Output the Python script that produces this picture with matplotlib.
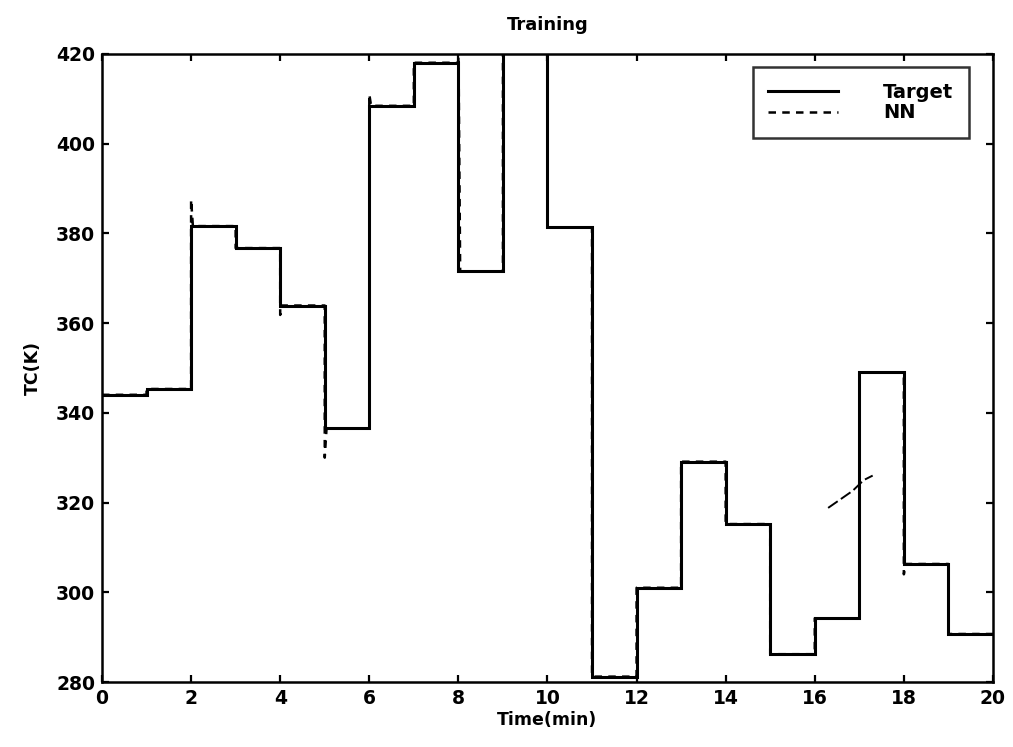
import matplotlib
matplotlib.use("Agg")
import matplotlib.pyplot as plt
import numpy as np

plt.rcParams['font.family'] = ['DejaVu Sans']
plt.rcParams['font.weight'] = 'bold'

# Data: piecewise-constant target temperature, one level per minute
minutes = list(range(0, 21))
target = [344.0, 345.3, 381.6, 376.7, 363.9, 336.5, 408.4, 418.0, 371.5, 432.0,
          381.3, 281.2, 301.0, 329.1, 315.2, 286.2, 294.2, 349.0, 306.3, 290.7]

# NN output follows the target with small overshoots at some switching instants
spike_time = [2, 4, 5, 6, 8, 18]
spike_value = [387.5, 361.8, 330.0, 411.0, 424.0, 304.0]

# stray dashed segment visible in the plot
stray_time = [16.3, 16.85, 17.1, 17.3]
stray_value = [318.8, 322.6, 325.0, 326.0]

x_ticks = [0, 2, 4, 6, 8, 10, 12, 14, 16, 18, 20]
y_ticks = [280, 300, 320, 340, 360, 380, 400, 420]

fig = plt.figure(figsize=(10.13, 7.47), dpi=100)
ax = fig.add_axes([0.1007, 0.087, 0.8795, 0.841])

# Target step line
t_step = np.repeat(minutes, 2)[1:-1]
v_step = np.repeat(target, 2)
ax.plot(t_step, v_step, color='black', lw=2.2, solid_joinstyle='miter', label='Target', zorder=3)

# NN line built from target and spikes
spikes = dict(zip(spike_time, spike_value))
nn_t, nn_v = [0], [target[0]]
for i in range(1, len(target)):
    nn_t.append(minutes[i]); nn_v.append(target[i - 1])
    if minutes[i] in spikes:
        nn_t.append(minutes[i]); nn_v.append(spikes[minutes[i]])
        nn_t.append(minutes[i] + 0.04); nn_v.append(target[i])
    else:
        nn_t.append(minutes[i]); nn_v.append(target[i])
nn_t.append(minutes[-1]); nn_v.append(target[-1])
ax.plot(nn_t, nn_v, color='black', lw=1.8, ls=(0, (3, 2.5)), label='NN', zorder=2)
ax.plot(stray_time, stray_value, color='black', lw=1.4, ls=(0, (6, 2)), zorder=2)

ax.set_xlim(0, 20)
ax.set_ylim(280, 420)
ax.set_xticks(x_ticks)
ax.set_yticks(y_ticks)
ax.tick_params(direction='in', length=5, width=1.6, top=True, right=True,
               labelsize=13.5, pad=5)
for lab in ax.get_xticklabels() + ax.get_yticklabels():
    lab.set_fontweight('bold')
for s in ax.spines.values():
    s.set_linewidth(1.8)

ax.set_title('Training', fontsize=13, fontweight='bold', pad=17)
ax.set_xlabel('Time(min)', fontsize=12.5, fontweight='bold', labelpad=2)
ax.set_ylabel('TC(K)', fontsize=12.5, fontweight='bold', labelpad=10)

leg = ax.legend(loc='upper right', bbox_to_anchor=(0.973, 0.979), frameon=True,
                fancybox=False, edgecolor='black', borderaxespad=0,
                handlelength=3.6, handletextpad=2.3, borderpad=0.8,
                labelspacing=0.1, prop={'weight': 'bold', 'size': 14})
leg.get_frame().set_linewidth(1.8)

fig.savefig('out.png', dpi=100)
